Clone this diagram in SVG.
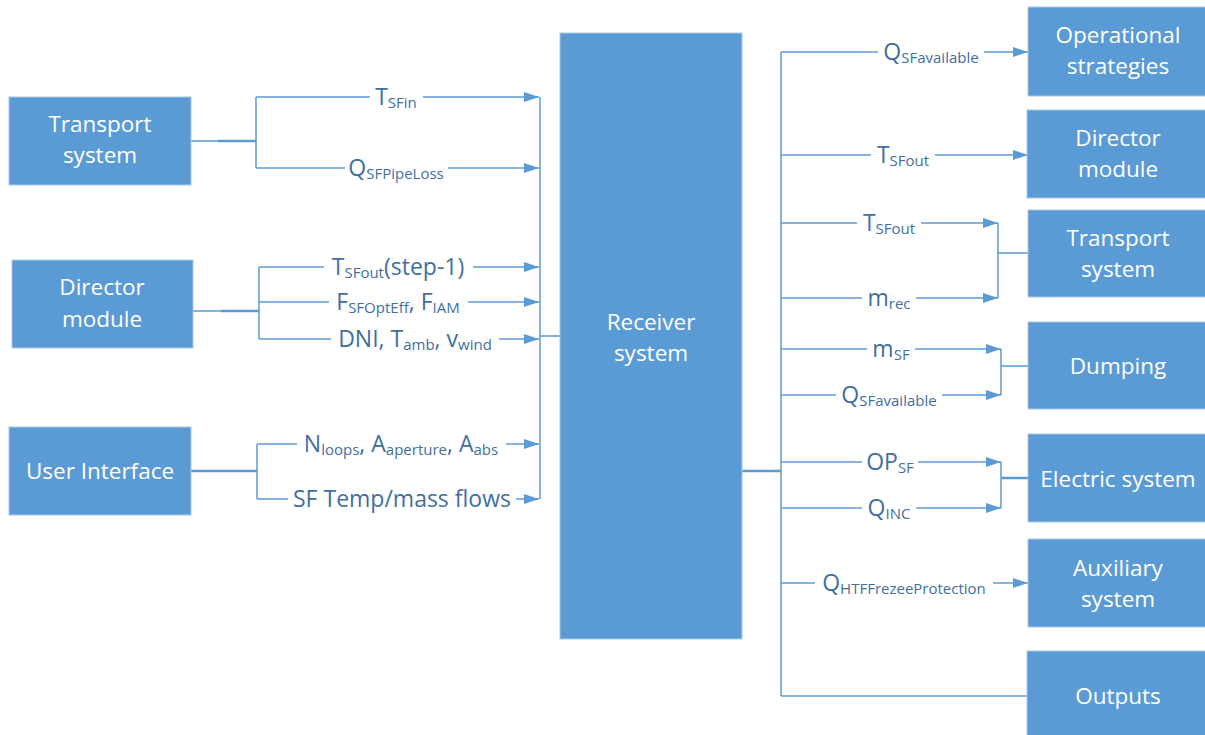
<svg xmlns="http://www.w3.org/2000/svg" width="1205" height="735" viewBox="0 0 1205 735">
  <style>
    .box { fill: #5B9BD5; stroke: #A9C8E8; stroke-width: 1; }
    .bt { fill: #FFFFFF; font-family: "Open Sans", "Liberation Sans", sans-serif; font-size: 22.5px; text-anchor: middle; }
    .ln { stroke: #5B9BD5; stroke-width: 1.5; fill: none; }
    .thick { stroke: #5B9BD5; stroke-width: 2.5; fill: none; }
    .arw { marker-end: url(#arrow); }
    .lb { fill: #3F6FA0; font-family: "Open Sans", "Liberation Sans", sans-serif; font-size: 23px; text-anchor: middle; }
    .sub { font-size: 15px; }
    .bg { fill: #FFFFFF; }
  </style>
  <defs>
    <marker id="arrow" viewBox="0 0 15 10" refX="15" refY="5" markerWidth="15" markerHeight="10" orient="auto" markerUnits="userSpaceOnUse">
      <path d="M0,0 L15,5 L0,10 Z" fill="#5B9BD5"/>
    </marker>
  </defs>

  <rect width="1205" height="735" fill="#FFFFFF"/>

  <!-- connectors -->
  <g id="connectors">
    <!-- Transport system (left) fan-out -->
    <path class="ln" d="M191,141 H256 M256,97 V168"/>
    <path class="thick" d="M218,141 H256"/>
    <path class="ln arw" d="M256,97 H539"/>
    <path class="ln arw" d="M256,168 H539"/>
    <!-- Director module (left) fan-out -->
    <path class="ln" d="M193,311 H259 M259,267 V339"/>
    <path class="thick" d="M221,311 H259"/>
    <path class="ln arw" d="M259,267 H539"/>
    <path class="ln arw" d="M259,302 H539"/>
    <path class="ln arw" d="M259,339 H539"/>
    <!-- User Interface fan-out -->
    <path class="thick" d="M191,471 H257"/>
    <path class="ln" d="M257,444 V499"/>
    <path class="ln arw" d="M257,444 H539"/>
    <path class="ln arw" d="M257,499 H539"/>
    <!-- collector into the receiver -->
    <path class="ln" d="M540,97 V499 M540,336 H560"/>

    <!-- receiver outputs trunk -->
    <path class="thick" d="M742,471 H781"/>
    <path class="ln" d="M781,52 V696"/>
    <path class="ln arw" d="M781,52 H1028"/>
    <path class="ln arw" d="M781,155 H1028"/>
    <path class="ln arw" d="M781,223 H998"/>
    <path class="ln arw" d="M781,298 H998"/>
    <path class="ln" d="M998,223 V298 M998,253 H1028"/>
    <path class="ln arw" d="M781,349 H1001"/>
    <path class="ln arw" d="M781,395 H1001"/>
    <path class="ln" d="M1001,349 V395 M1001,366 H1028"/>
    <path class="ln arw" d="M781,462 H1001"/>
    <path class="ln arw" d="M781,508 H1001"/>
    <path class="ln" d="M1001,462 V508"/>
    <path class="thick" d="M1001,478 H1028"/>
    <path class="ln arw" d="M781,583 H1028"/>
    <path class="ln" d="M781,696 H1027"/>
  </g>

  <!-- connector labels -->
  <g id="labels">
    <rect class="bg" x="370" y="84" width="53" height="26"/>
    <text class="lb" x="396" y="105">T<tspan class="sub" dy="3">SFin</tspan></text>

    <rect class="bg" x="345" y="155" width="103" height="26"/>
    <text class="lb" x="396" y="176">Q<tspan class="sub" dy="3">SFPipeLoss</tspan></text>

    <rect class="bg" x="324" y="254" width="149" height="26"/>
    <text class="lb" x="398" y="275">T<tspan class="sub" dy="3">SFout</tspan><tspan dy="-3">(step-1)</tspan></text>

    <rect class="bg" x="329" y="289" width="139" height="26"/>
    <text class="lb" x="398" y="310">F<tspan class="sub" dy="3">SFOptEff</tspan><tspan dy="-3">, F</tspan><tspan class="sub" dy="3">IAM</tspan></text>

    <rect class="bg" x="331" y="326" width="168" height="26"/>
    <text class="lb" x="415" y="347">DNI, T<tspan class="sub" dy="3">amb</tspan><tspan dy="-3">, v</tspan><tspan class="sub" dy="3">wind</tspan></text>

    <rect class="bg" x="297" y="431" width="209" height="26"/>
    <text class="lb" x="401" y="452">N<tspan class="sub" dy="3">loops</tspan><tspan dy="-3">, A</tspan><tspan class="sub" dy="3">aperture</tspan><tspan dy="-3">, A</tspan><tspan class="sub" dy="3">abs</tspan></text>

    <rect class="bg" x="288" y="486" width="228" height="26"/>
    <text class="lb" x="402" y="507">SF Temp/mass flows</text>

    <rect class="bg" x="878" y="39" width="106" height="26"/>
    <text class="lb" x="931" y="60">Q<tspan class="sub" dy="3">SFavailable</tspan></text>

    <rect class="bg" x="871" y="142" width="64" height="26"/>
    <text class="lb" x="903" y="163">T<tspan class="sub" dy="3">SFout</tspan></text>

    <rect class="bg" x="857" y="210" width="64" height="26"/>
    <text class="lb" x="889" y="231">T<tspan class="sub" dy="3">SFout</tspan></text>

    <rect class="bg" x="862" y="285" width="54" height="26"/>
    <text class="lb" x="889" y="306">m<tspan class="sub" dy="3">rec</tspan></text>

    <rect class="bg" x="867" y="336" width="48" height="26"/>
    <text class="lb" x="891" y="357">m<tspan class="sub" dy="3">SF</tspan></text>

    <rect class="bg" x="836" y="382" width="106" height="26"/>
    <text class="lb" x="889" y="403">Q<tspan class="sub" dy="3">SFavailable</tspan></text>

    <rect class="bg" x="862" y="449" width="56" height="26"/>
    <text class="lb" x="890" y="470">OP<tspan class="sub" dy="3">SF</tspan></text>

    <rect class="bg" x="862" y="495" width="54" height="26"/>
    <text class="lb" x="889" y="516">Q<tspan class="sub" dy="3">INC</tspan></text>

    <rect class="bg" x="815" y="570" width="178" height="26"/>
    <text class="lb" x="904" y="591">Q<tspan class="sub" dy="3">HTFFrezeeProtection</tspan></text>
  </g>

  <!-- left inputs -->
  <g id="transport-in">
    <rect class="box" x="9" y="97" width="182" height="88"/>
    <text class="bt" x="100" y="132">Transport</text>
    <text class="bt" x="100" y="163">system</text>
  </g>
  <g id="director-in">
    <rect class="box" x="12" y="260" width="181" height="88"/>
    <text class="bt" x="102" y="295">Director</text>
    <text class="bt" x="102" y="327">module</text>
  </g>
  <g id="user-interface">
    <rect class="box" x="9" y="427" width="182" height="88"/>
    <text class="bt" x="100" y="479">User Interface</text>
  </g>

  <!-- central block -->
  <g id="receiver">
    <rect class="box" x="560" y="33" width="182" height="606"/>
    <text class="bt" x="651" y="330">Receiver</text>
    <text class="bt" x="651" y="361">system</text>
  </g>

  <!-- right outputs -->
  <g id="operational-strategies">
    <rect class="box" x="1028" y="7" width="178" height="89"/>
    <text class="bt" x="1118" y="43">Operational</text>
    <text class="bt" x="1118" y="74">strategies</text>
  </g>
  <g id="director-out">
    <rect class="box" x="1027" y="110" width="179" height="88"/>
    <text class="bt" x="1118" y="146">Director</text>
    <text class="bt" x="1118" y="177">module</text>
  </g>
  <g id="transport-out">
    <rect class="box" x="1028" y="210" width="178" height="87"/>
    <text class="bt" x="1118" y="246">Transport</text>
    <text class="bt" x="1118" y="277">system</text>
  </g>
  <g id="dumping">
    <rect class="box" x="1028" y="322" width="178" height="87"/>
    <text class="bt" x="1118" y="374">Dumping</text>
  </g>
  <g id="electric-system">
    <rect class="box" x="1028" y="434" width="178" height="88"/>
    <path class="thick" d="M1028,478 H1038"/>
    <text class="bt" x="1118" y="487">Electric system</text>
  </g>
  <g id="auxiliary-system">
    <rect class="box" x="1028" y="539" width="178" height="88"/>
    <text class="bt" x="1118" y="576">Auxiliary</text>
    <text class="bt" x="1118" y="607">system</text>
  </g>
  <g id="outputs">
    <rect class="box" x="1027" y="651" width="179" height="90"/>
    <text class="bt" x="1118" y="704">Outputs</text>
  </g>
</svg>
